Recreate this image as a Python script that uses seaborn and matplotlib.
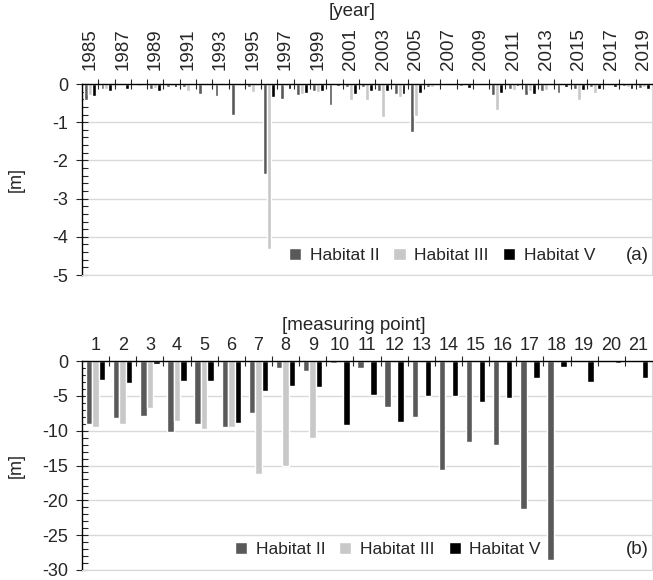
import numpy as np
import pandas as pd
import matplotlib
matplotlib.use('Agg')
import matplotlib.pyplot as plt
import seaborn as sns
from matplotlib.ticker import MultipleLocator, FixedLocator

sns.set_style('white')
plt.rcParams['font.family'] = ['Liberation Sans', 'DejaVu Sans']
plt.rcParams['font.size'] = 12.5
plt.rcParams['axes.unicode_minus'] = False

habitats = ['Habitat II', 'Habitat III', 'Habitat V']
colors = ['#595959', '#c8c8c8', '#000000']

# panel (a): yearly values [m]
years = list(range(1985, 2020))
a_hab2 = [-0.42, -0.14, -0.03, -0.02, -0.14, -0.09, -0.09, -0.26, -0.31, -0.82,
          -0.08, -2.35, -0.38, -0.28, -0.19, -0.56, -0.09, -0.09, -0.19, -0.25,
          -1.25, -0.09, -0.01, -0.05, 0.0, -0.29, -0.12, -0.30, -0.19, -0.23,
          -0.13, -0.09, -0.03, -0.05, -0.10]
a_hab3 = [-0.28, -0.12, -0.02, -0.05, -0.10, -0.05, -0.18, -0.02, -0.02, -0.02,
          -0.22, -4.33, -0.05, -0.26, -0.22, -0.02, -0.42, -0.42, -0.86, -0.35,
          -0.84, -0.07, -0.01, -0.02, 0.0, -0.67, -0.16, -0.18, -0.16, -0.02,
          -0.42, -0.24, -0.03, -0.07, -0.09]
a_hab5 = [-0.32, -0.18, -0.14, -0.02, -0.19, -0.09, -0.02, 0.0, 0.0, 0.0,
          0.0, -0.33, -0.14, -0.24, -0.19, -0.06, -0.26, -0.18, -0.18, -0.26,
          -0.23, 0.0, -0.01, -0.10, -0.03, -0.23, -0.05, -0.26, -0.02, -0.07,
          -0.15, -0.12, -0.09, -0.14, -0.13]

# panel (b): measuring points [m]
points = list(range(1, 22))
b_hab2 = [-9.1, -8.25, -7.9, -10.2, -9.1, -9.5, -7.45, -1.0, -1.37, -0.33, -1.04,
          -6.65, -8.1, -15.7, -11.65, -12.1, -21.3, -28.5, 0.0, 0.0, 0.0]
b_hab3 = [-9.5, -9.05, -6.7, -8.6, -9.75, -9.5, -16.2, -15.1, -11.1, 0.0, 0.0,
          0.0, 0.0, 0.0, 0.0, 0.0, 0.0, 0.0, 0.0, 0.0, 0.0]
b_hab5 = [-2.7, -3.2, -0.42, -2.8, -2.9, -8.95, -4.3, -3.6, -3.8, -9.25, -4.95,
          -8.77, -5.0, -5.0, -5.9, -5.3, -2.4, -0.85, -3.07, -0.3, -2.4]


def long_df(cats, s1, s2, s3):
    rows = []
    for name, vals in zip(habitats, [s1, s2, s3]):
        for c, v in zip(cats, vals):
            rows.append({'cat': str(c), 'value': v, 'habitat': name})
    return pd.DataFrame(rows)


df_a = long_df(years, a_hab2, a_hab3, a_hab5)
df_b = long_df(points, b_hab2, b_hab3, b_hab5)

fig = plt.figure(figsize=(6.53, 5.8), dpi=100)
W, H = 653, 580
L, R = 82, 652
ax_a = fig.add_axes([L / W, 1 - 275 / H, (R - L) / W, (275 - 84) / H])
ax_b = fig.add_axes([L / W, 1 - 570 / H, (R - L) / W, (570 - 361) / H])


def style(ax, df, n, ymin, major, minor, labels, rot, leg_x, tag):
    sns.barplot(data=df, x='cat', y='value', hue='habitat', order=labels,
                palette=colors, saturation=1, width=0.72, ax=ax)
    ax.set_xlim(-0.5, n - 0.5)
    ax.set_ylim(ymin, 0)
    ax.yaxis.set_major_locator(MultipleLocator(major))
    ax.yaxis.set_minor_locator(MultipleLocator(minor))
    ax.grid(axis='y', which='major', color='#d9d9d9', lw=1)
    ax.set_axisbelow(True)
    ax.xaxis.tick_top()
    ax.set_xlabel('')
    ax.set_ylabel('[m]', fontsize=13)
    ax.yaxis.set_label_coords(-0.1, 0.5)
    if rot:
        ticks = list(range(0, n, 2))
        ax.set_xticks(ticks)
        ax.set_xticklabels([labels[i] for i in ticks], rotation=90)
        ax.tick_params(axis='x', which='major', length=0, pad=10, labelsize=13.5)
    else:
        ax.set_xticks(range(n))
        ax.set_xticklabels(labels)
        ax.tick_params(axis='x', which='major', length=0, pad=5, labelsize=13)
    ax.xaxis.set_minor_locator(FixedLocator(np.arange(0.5, n - 0.5, 1)))
    ax.tick_params(axis='x', which='minor', top=True, direction='inout', length=7, width=0.8)
    ax.tick_params(axis='y', which='major', left=True, direction='inout', length=8,
                   width=0.8, pad=6, labelsize=13)
    ax.tick_params(axis='y', which='minor', left=True, direction='in', length=4, width=0.8)
    for s in ['left', 'top']:
        ax.spines[s].set_color('black')
        ax.spines[s].set_linewidth(1)
    for s in ['bottom', 'right']:
        ax.spines[s].set_color('#d9d9d9')
    ax.legend(ncol=3, loc='center right', bbox_to_anchor=(leg_x, 0.10),
              frameon=False, handlelength=0.7, handleheight=0.7,
              handletextpad=0.5, columnspacing=0.8, borderaxespad=0,
              borderpad=0, fontsize=12.5)
    ax.text(0.995, 0.10, tag, transform=ax.transAxes, ha='right', va='center', fontsize=13.5)


style(ax_a, df_a, len(years), -5, 1, 0.2, [str(y) for y in years], True, 0.9, '(a)')
style(ax_b, df_b, len(points), -30, 5, 1, [str(p) for p in points], False, 0.805, '(b)')

fig.text(352 / W, 1 - 11 / H, '[year]', ha='center', va='center', fontsize=13.5)
fig.text(354 / W, 1 - 325 / H, '[measuring point]', ha='center', va='center', fontsize=13.5)

fig.savefig('out.png', dpi=100)
